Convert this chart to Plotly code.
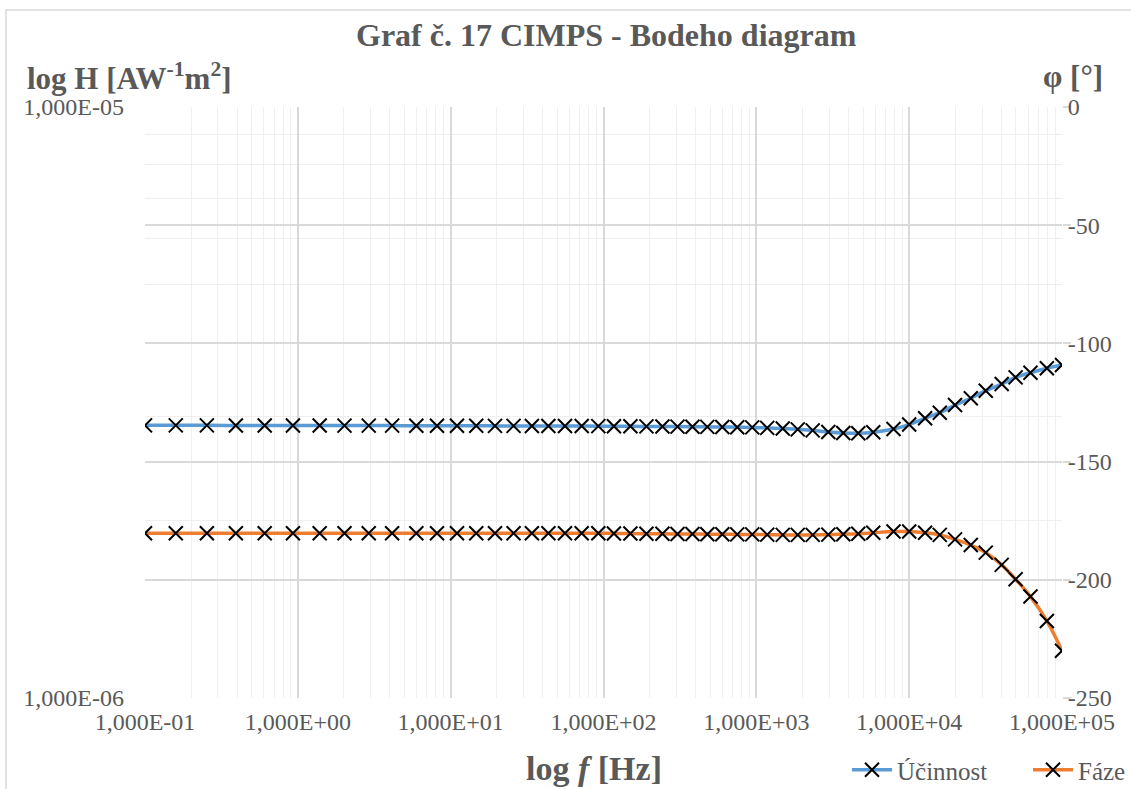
import plotly.graph_objects as go

# ---------------- data ----------------
freq_hz = [0.1, 0.159, 0.254, 0.393, 0.607, 0.929, 1.39, 2.02, 2.91, 4.14,
           5.96, 8.14, 11.0, 14.7, 19.5, 25.8, 34.0, 43.6, 56.0, 72.0,
           92.5, 117, 150, 191, 243, 305, 382, 478, 599, 750,
           940, 1178, 1489, 1866, 2338, 2958, 3707, 4645, 5821, 7900,
           10000, 12710, 15860, 19960, 25300, 31700, 40300, 49700, 62200, 79600,
           100000]

ucinnost_H = [2.893e-6, 2.893e-6, 2.893e-6, 2.892e-6, 2.892e-6, 2.891e-6, 2.891e-6, 2.890e-6, 2.890e-6, 2.890e-6,
              2.889e-6, 2.889e-6, 2.888e-6, 2.888e-6, 2.887e-6, 2.887e-6, 2.886e-6, 2.886e-6, 2.885e-6, 2.885e-6,
              2.884e-6, 2.883e-6, 2.882e-6, 2.881e-6, 2.880e-6, 2.879e-6, 2.878e-6, 2.876e-6, 2.874e-6, 2.872e-6,
              2.870e-6, 2.865e-6, 2.857e-6, 2.848e-6, 2.837e-6, 2.819e-6, 2.808e-6, 2.805e-6, 2.816e-6, 2.852e-6,
              2.902e-6, 2.974e-6, 3.039e-6, 3.132e-6, 3.215e-6, 3.311e-6, 3.398e-6, 3.488e-6, 3.551e-6, 3.613e-6,
              3.660e-6]

faze_deg = [-180.3, -180.3, -180.3, -180.3, -180.3, -180.3, -180.3, -180.3, -180.3, -180.3,
            -180.3, -180.3, -180.3, -180.3, -180.3, -180.3, -180.3, -180.3, -180.3, -180.3,
            -180.3, -180.4, -180.4, -180.5, -180.5, -180.6, -180.6, -180.7, -180.7, -180.8,
            -180.8, -180.9, -181.0, -181.0, -181.0, -180.9, -180.7, -180.5, -180.1, -179.6,
            -179.6, -180.1, -181.0, -182.9, -185.3, -188.5, -193.7, -199.8, -207.1, -217.4,
            -230.0]

x_tickvals = [0.1, 1, 10, 100, 1000, 10000, 100000]
x_ticktext = ["1,000E-01", "1,000E+00", "1,000E+01", "1,000E+02",
              "1,000E+03", "1,000E+04", "1,000E+05"]
yl_tickvals = [1e-6, 1e-5]
yl_ticktext = ["1,000E-06", "1,000E-05"]
yr_tickvals = [0, -50, -100, -150, -200, -250]
yr_ticktext = ["0", "-50", "-100", "-150", "-200", "-250"]

# ---------------- layout helpers ----------------
W, H = 1131, 789
L, R, T, B = 145, 1062, 107, 698


def xp(px):
    return (px - L) / (R - L)


def yp(py):
    return (B - py) / (B - T)


FONT = "Liberation Serif"
GREY = "#595959"
MAJOR = "#d9d9d9"
MINOR = "#efefef"

x_minor = [m * 10 ** e for e in range(-1, 5) for m in range(2, 10)]
y_minor = [m * 1e-6 for m in range(2, 10)]

fig = go.Figure()

mk = dict(symbol="x-thin", size=14, line=dict(color="black", width=2), color="black")
fig.add_trace(go.Scatter(
    x=freq_hz, y=ucinnost_H, name="Účinnost", yaxis="y",
    mode="lines+markers", line=dict(color="#5B9BD5", width=3.5, shape="spline"),
    marker=mk,
))
fig.add_trace(go.Scatter(
    x=freq_hz, y=faze_deg, name="Fáze", yaxis="y2",
    mode="lines+markers", line=dict(color="#ED7D31", width=3.5, shape="spline"),
    marker=mk,
))

fig.update_layout(
    width=W, height=H,
    margin=dict(l=L, r=W - R, t=T, b=H - B, pad=0, autoexpand=False),
    paper_bgcolor="white", plot_bgcolor="white",
    font=dict(family=FONT, color=GREY, size=24),
    showlegend=True,
    legend=dict(orientation="h", x=xp(847), y=yp(770), xanchor="left", yanchor="middle",
                font=dict(family=FONT, size=25, color=GREY), bgcolor="rgba(0,0,0,0)",
                itemwidth=40, tracegroupgap=0, entrywidth=126, entrywidthmode="pixels"),
    xaxis=dict(
        type="log", range=[-1, 5], automargin=False,
        tickmode="array", tickvals=x_tickvals, ticktext=x_ticktext,
        showgrid=True, gridcolor=MAJOR, gridwidth=1.5,
        zeroline=False, showline=False, ticks="",
        tickfont=dict(family=FONT, size=24, color=GREY),
        ticklabelstandoff=7,
        minor=dict(tickmode="array", tickvals=x_minor, showgrid=True,
                   gridcolor=MINOR, gridwidth=1.3, ticks=""),
    ),
    yaxis=dict(
        type="log", range=[-6, -5], automargin=False,
        tickmode="array", tickvals=yl_tickvals, ticktext=yl_ticktext,
        showgrid=False, zeroline=False, showline=False, ticks="",
        tickfont=dict(family=FONT, size=24, color=GREY),
        ticklabelstandoff=20,
        minor=dict(tickmode="array", tickvals=y_minor, showgrid=True,
                   gridcolor=MINOR, gridwidth=1.3, ticks=""),
    ),
    yaxis2=dict(
        overlaying="y", side="right", range=[-250, 0], automargin=False,
        tickmode="array", tickvals=yr_tickvals, ticktext=yr_ticktext,
        showgrid=True, gridcolor=MAJOR, gridwidth=1.5,
        zeroline=False, showline=False,
        ticks="outside", ticklen=8, tickcolor=MAJOR, tickwidth=1.5,
        tickfont=dict(family=FONT, size=24, color=GREY),
        ticklabelstandoff=-8,
    ),
)

annotations = [
    dict(text="<b>Graf č. 17 CIMPS - Bodeho diagram</b>", x=xp(606), y=yp(35),
         xanchor="center", yanchor="middle", font=dict(size=32)),
    dict(text="<b>log H [AW<sup>-1</sup>m<sup>2</sup>]</b>", x=xp(25), y=yp(76),
         xanchor="left", yanchor="middle", font=dict(size=31)),
    dict(text="<b>φ [°]</b>", x=xp(1105), y=yp(76),
         xanchor="right", yanchor="middle", font=dict(size=31)),
    dict(text="<b>log <i>f</i> [Hz]</b>", x=xp(594), y=yp(768),
         xanchor="center", yanchor="middle", font=dict(size=34)),
]
for a in annotations:
    a.update(xref="paper", yref="paper", showarrow=False)
    a["font"].update(family=FONT, color=GREY)
fig.update_layout(annotations=annotations)

fig.add_shape(type="rect", xref="paper", yref="paper",
              x0=xp(6), x1=xp(1145), y0=yp(800), y1=yp(10),
              line=dict(color=MAJOR, width=1.5), fillcolor="rgba(0,0,0,0)", layer="below")

fig.write_html("out.html", config={"displayModeBar": False},
               post_script="document.body.style.margin='0';document.body.style.overflow='hidden';")
